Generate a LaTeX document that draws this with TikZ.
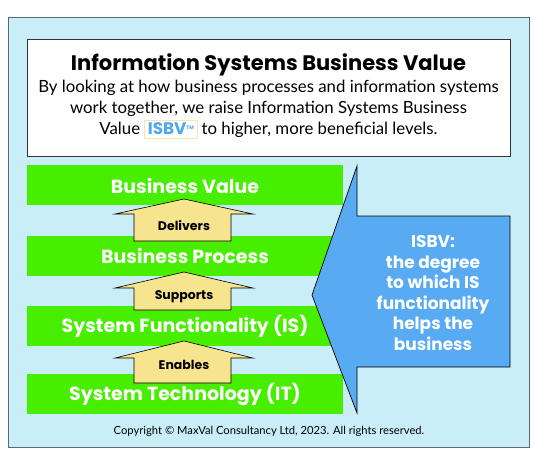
\documentclass[tikz,border=0pt]{standalone}
\usepackage{fontspec}
\setmainfont{Lato}
\newfontfamily\heavy{Poppins}
\definecolor{panelbg}{HTML}{C9EEF8}
\definecolor{panelline}{HTML}{5A6870}
\definecolor{barg}{HTML}{48EE00}
\definecolor{arrowy}{HTML}{F6E48E}
\definecolor{callb}{HTML}{58AAF2}
\definecolor{isbvblue}{HTML}{4FA8F0}
\definecolor{isbvbox}{HTML}{F3E6B0}
\tikzset{
  bar/.style={fill=barg, draw=none},
  bartext/.style={text=white, font=\heavy\bfseries\fontsize{19}{22}\selectfont, anchor=center},
  uparrow/.style={fill=arrowy, draw=black, line width=0.6pt, line join=miter},
  arrowtext/.style={text=black, font=\heavy\bfseries\fontsize{12.5}{14}\selectfont, anchor=center},
}
\begin{document}
\begin{tikzpicture}[x=1pt,y=-1pt]
\useasboundingbox (0,0) rectangle (534,462);
% panel
\draw[fill=panelbg, draw=panelline, line width=1pt] (8,18) rectangle (529,447);
% header box
\draw[fill=white, draw=black!80, line width=0.9pt] (27,39) rectangle (510,156);
\node[font=\heavy\bfseries\fontsize{21}{24}\selectfont, anchor=center] (title) at (268.5,65) {Information Systems Business Value};
\node[font=\fontsize{16.8}{21}\selectfont, align=center, anchor=north] (body) at (268.5,77)
  {By looking at how business processes and information systems\\
   work together, we raise Information Systems Business\\
   Value \fcolorbox{isbvbox}{white}{\textcolor{isbvblue}{\heavy\bfseries ISBV\raisebox{0.6ex}{\tiny\bfseries TM}}} to higher, more beneficial levels.};
% bars
\fill[bar] (27,165) rectangle (343,205);
\fill[bar] (27,236) rectangle (343,276);
\fill[bar] (27,306) rectangle (343,346);
\fill[bar] (27,374) rectangle (343,414);
\node[bartext] (bv) at (185,185.5) {Business Value};
\node[bartext] (bp) at (185,256) {Business Process};
\node[bartext] (sf) at (185,326) {System Functionality (IS)};
\node[bartext] (st) at (185,394) {System Technology (IT)};
% up arrows
\draw[uparrow] (134,241) -- (134,214) -- (115,214) -- (184,199) -- (253,214) -- (231,214) -- (231,241) -- cycle;
\node[arrowtext] (a1) at (184,226) {Delivers};
\draw[uparrow] (134,310) -- (134,288) -- (115,288) -- (184,272) -- (253,288) -- (231,288) -- (231,310) -- cycle;
\node[arrowtext] (a2) at (184,297) {Supports};
\draw[uparrow] (134,383) -- (134,358) -- (115,358) -- (184,341) -- (253,358) -- (231,358) -- (231,383) -- cycle;
\node[arrowtext] (a3) at (184,365) {Enables};
% callout arrow
\draw[fill=callb, draw=black, line width=0.7pt, line join=miter]
  (357,166) -- (357,216) -- (510,216) -- (510,367) -- (357,367) -- (357,413) -- (312,295) -- cycle;
\node[text=white, font=\heavy\bfseries\fontsize{17}{20.5}\selectfont, align=center, anchor=center] (cal) at (433,293)
  {ISBV:\\the degree\\to which IS\\functionality\\helps the\\business};
% copyright
\node[font=\fontsize{11.2}{13}\selectfont, anchor=center] (copy) at (269,431) {Copyright \textcopyright{} MaxVal Consultancy Ltd, 2023. All rights reserved.};
\end{tikzpicture}
\end{document}
